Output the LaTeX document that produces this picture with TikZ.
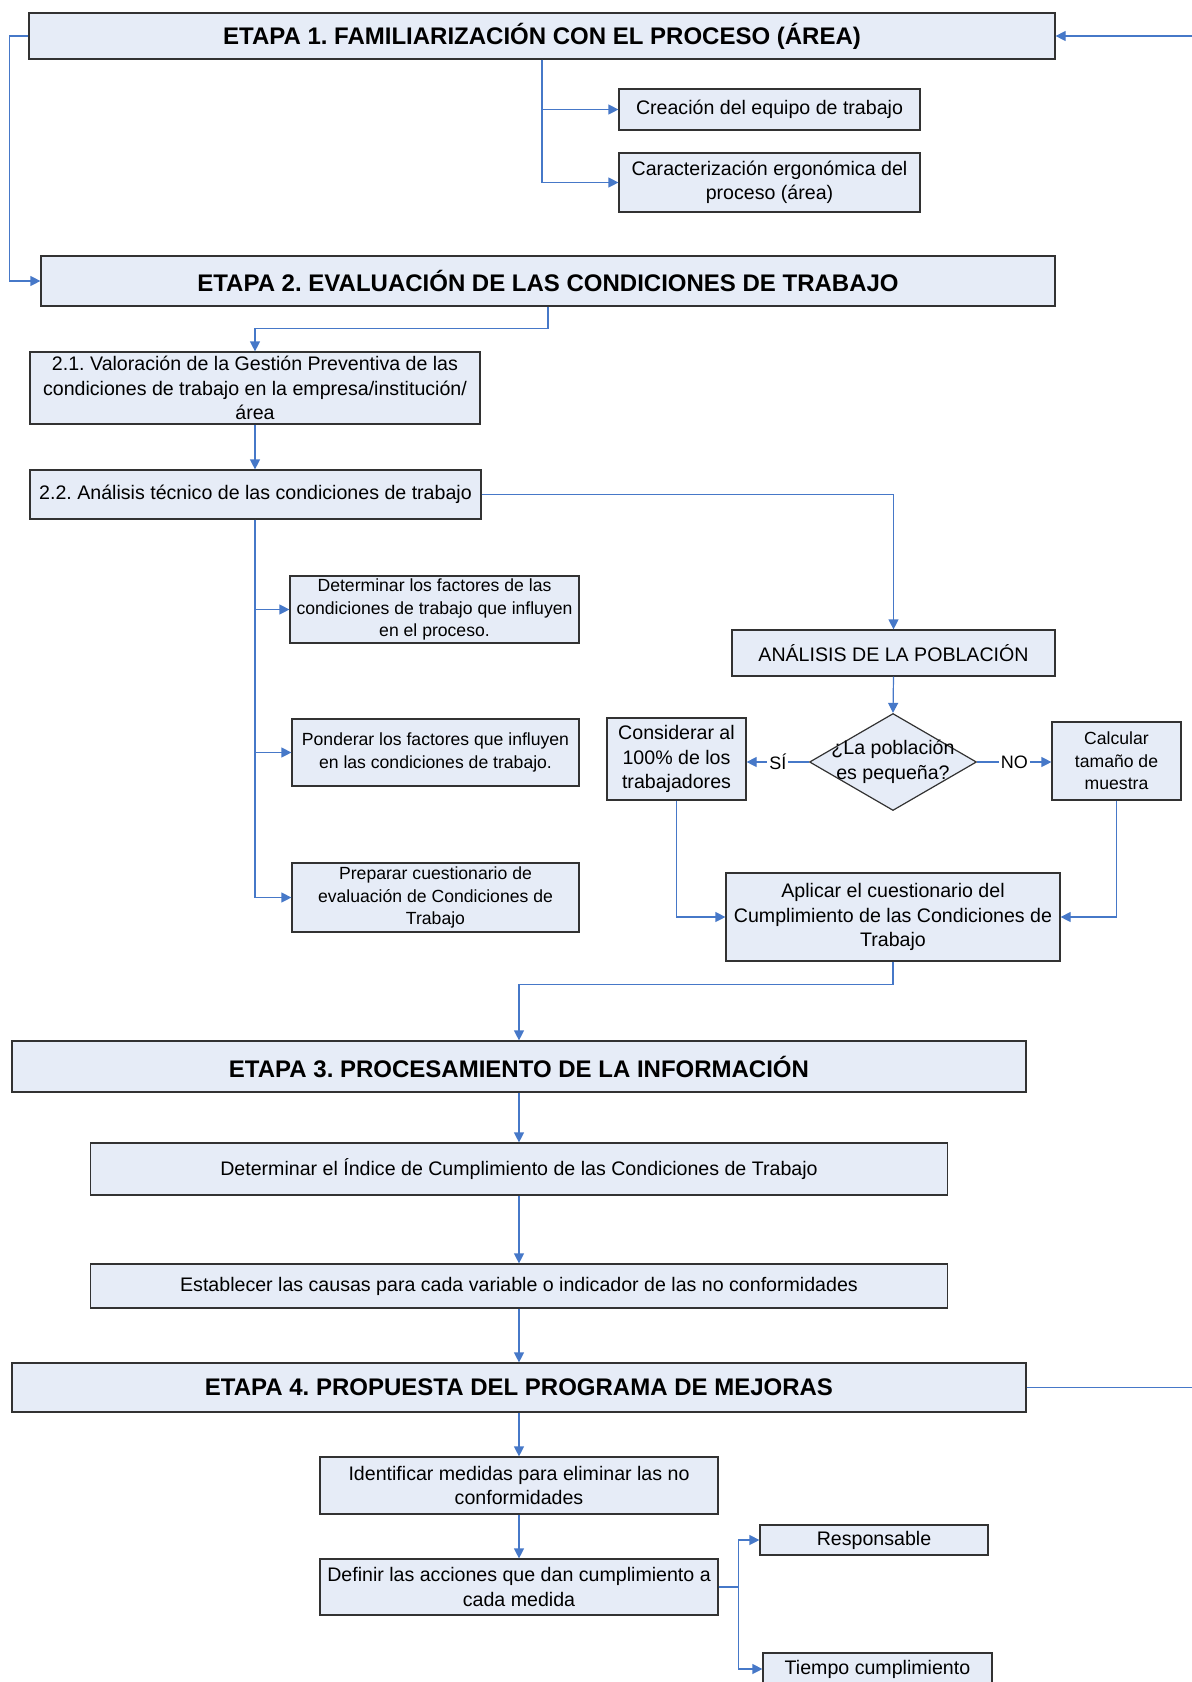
\documentclass[tikz,border=0pt]{standalone}
\usepackage{fontspec}
\setmainfont{Liberation Sans}
\usetikzlibrary{arrows.meta,shapes.geometric}
\definecolor{azul}{RGB}{70,120,200}
\definecolor{relleno}{RGB}{230,236,247}
\definecolor{borde}{RGB}{50,50,50}
\frenchspacing

\begin{document}
\begin{tikzpicture}[
  x=0.5pt, y=-0.5pt,
  etapa/.style={draw=borde, fill=relleno, line width=0.6pt, inner sep=0pt,
                font=\fontsize{12}{14}\selectfont\bfseries},
  caja/.style={draw=borde, fill=relleno, line width=0.6pt, inner sep=0pt,
               align=center, font=\fontsize{9.8}{12.3}\selectfont},
  cajita/.style={caja, font=\fontsize{8.8}{11.2}\selectfont},
  decision/.style={diamond, draw=borde, fill=relleno, line width=0.6pt, inner sep=0pt},
  linea/.style={draw=azul, line width=0.6pt},
  flecha/.style={linea, -{Triangle[length=5pt, width=5pt]}},
  etiq/.style={fill=white, inner sep=1pt, font=\fontsize{9}{10}\selectfont},
]
% Coordinates are pixels of the A4 page: 1 unit = 0.5pt, y grows downwards.
\clip (0,0) rectangle (1192,1682);

% ─── Etapa 1 ──────────────────────────────────────────────────────────────
\node[etapa, minimum width=513pt, minimum height=23pt] (e1) at (542,36)
    {ETAPA 1. FAMILIARIZACIÓN CON EL PROCESO (ÁREA)};
\node[caja, minimum width=150.5pt, minimum height=20.5pt] (crea) at (769.5,109.5)
    {Creación del equipo de trabajo};
\node[caja, minimum width=150.5pt, minimum height=29.5pt] (carac) at (769.5,182.5)
    {Caracterización ergonómica del\\proceso (área)};
\coordinate (retorno1) at (1192,36);

\draw[flecha] (retorno1) -- (e1.east);
\draw[flecha] (e1.south) |- (crea.west);
\draw[flecha] (e1.south) |- (carac.west);

% ─── Etapa 2 ──────────────────────────────────────────────────────────────
\node[etapa, minimum width=507pt, minimum height=25pt] (e2) at (548,281)
    {ETAPA 2. EVALUACIÓN DE LAS CONDICIONES DE TRABAJO};
\draw[flecha] (e1.west) -- ++(-19,0) |- (e2.west);

\node[caja, minimum width=225pt, minimum height=36pt] (val) at (255,388)
    {2.1. Valoración de la Gestión Preventiva de las\\condiciones de trabajo en la empresa/institución/\\área};
\node[caja, minimum width=225.5pt, minimum height=24.5pt] (tec) at (255.5,494.5)
    {2.2. Análisis técnico de las condiciones de trabajo};

\draw[flecha] (e2.south) -- ++(0,22) -| (val.north);
\draw[flecha] (val.south) -- (val.south |- tec.north);

% factors branch
\node[cajita, minimum width=144.5pt, minimum height=33.5pt] (det) at (434.5,609.5)
    {Determinar los factores de las\\condiciones de trabajo que influyen\\en el proceso.};
\node[cajita, minimum width=143.5pt, minimum height=33.5pt] (pon) at (435.5,752.5)
    {Ponderar los factores que influyen\\en las condiciones de trabajo.};
\node[cajita, minimum width=143.5pt, minimum height=34.5pt] (pre) at (435.5,897.5)
    {Preparar cuestionario de\\evaluación de Condiciones de\\Trabajo};

\draw[flecha] (val.south |- tec.south) |- (det.west);
\draw[flecha] (val.south |- tec.south) |- (pon.west);
\draw[flecha] (val.south |- tec.south) |- (pre.west);

% population branch
\node[caja, minimum width=161.5pt, minimum height=23pt] (ana) at (893.5,653)
    {ANÁLISIS DE LA POBLACIÓN};
\node[decision, minimum width=83.5pt, minimum height=48.5pt,
      label={[align=center, font=\fontsize{9.8}{12.3}\selectfont]center:¿La población\\es pequeña?}]
    (preg) at (893,762) {};
\node[caja, minimum width=69.5pt, minimum height=41pt] (cons) at (676.5,759)
    {Considerar al\\100\% de los\\trabajadores};
\node[cajita, minimum width=64.5pt, minimum height=39pt] (calc) at (1116.5,761)
    {Calcular\\tamaño de\\muestra};
\node[caja, minimum width=167pt, minimum height=44pt] (apl) at (893,917)
    {Aplicar el cuestionario del\\Cumplimiento de las Condiciones de\\Trabajo};

\draw[flecha] (tec.east) -| (ana.north);
\draw[flecha] (ana.south) -- (preg.north);
\draw[flecha] (preg.west) -- node[etiq] {SÍ} (preg.west -| cons.east);
\draw[flecha] (preg.east) -- node[etiq] {NO} (preg.east -| calc.west);
\draw[flecha] (cons.south) |- (apl.west);
\draw[flecha] (calc.south) |- (apl.east);

% ─── Etapa 3 ──────────────────────────────────────────────────────────────
\node[etapa, minimum width=507pt, minimum height=25.5pt] (e3) at (519,1066.5)
    {ETAPA 3. PROCESAMIENTO DE LA INFORMACIÓN};
\node[caja, minimum width=428.5pt, minimum height=26pt] (ind) at (519,1169)
    {Determinar el Índice de Cumplimiento de las Condiciones de Trabajo};
\node[caja, minimum width=428.5pt, minimum height=22pt] (est) at (519,1286)
    {Establecer las causas para cada variable o indicador de las no conformidades};

\draw[flecha] (apl.south) -- ++(0,23) -| (e3.north);
\draw[flecha] (e3.south) -- (ind.north);
\draw[flecha] (ind.south) -- (est.north);

% ─── Etapa 4 ──────────────────────────────────────────────────────────────
\node[etapa, minimum width=507pt, minimum height=24.5pt] (e4) at (519,1387.5)
    {ETAPA 4. PROPUESTA DEL PROGRAMA DE MEJORAS};
\node[caja, minimum width=199pt, minimum height=28.5pt] (ide) at (519,1485.5)
    {Identificar medidas para eliminar las no\\conformidades};
\node[caja, minimum width=199pt, minimum height=28pt] (def) at (519,1587)
    {Definir las acciones que dan cumplimiento a\\cada medida};
\node[caja, minimum width=114pt, minimum height=15pt] (resp) at (874,1540)
    {Responsable};
\node[caja, minimum width=114.5pt, minimum height=16pt] (tie) at (877.5,1669)
    {Tiempo cumplimiento};
\coordinate (retorno4) at (1192,1387.5);

\draw[flecha] (est.south) -- (e4.north);
\draw[linea] (e4.east) -- (retorno4);
\draw[flecha] (e4.south) -- (ide.north);
\draw[flecha] (ide.south) -- (def.north);
\draw[flecha] (def.east) -- ++(20,0) |- (resp.west);
\draw[flecha] (def.east) -- ++(20,0) |- (tie.west);

\end{tikzpicture}
\end{document}
